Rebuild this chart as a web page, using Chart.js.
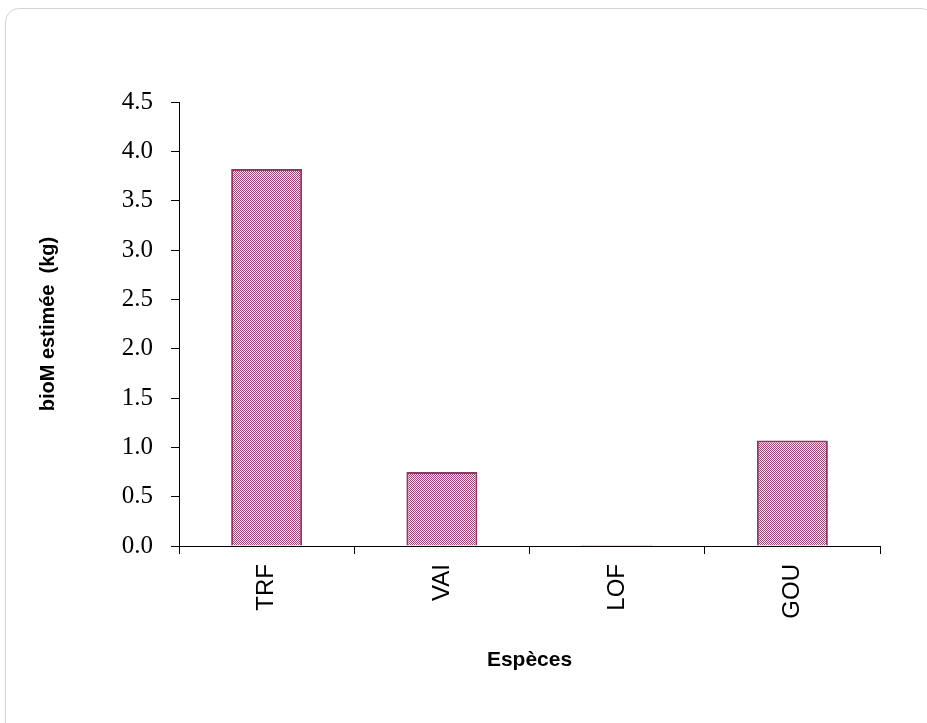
<!DOCTYPE html>
<html>
<head>
<meta charset="utf-8">
<script src="https://cdn.jsdelivr.net/npm/chart.js@4/dist/chart.umd.min.js"></script>
<style>
  html, body { margin: 0; padding: 0; background: #fff; }
  #wrap { position: relative; width: 927px; height: 723px; }
  #frame {
    position: absolute; left: 5px; top: 8px; width: 930px; height: 730px;
    border: 1px solid #d4d4d4; border-radius: 14px; box-sizing: border-box;
  }
  canvas { position: absolute; left: 0; top: 0; }
</style>
</head>
<body>
<div id="wrap">
  <div id="frame"></div>
  <canvas id="c" width="927" height="723"></canvas>
</div>
<script>
// Estimated biomass per species (kg)
const species = ['TRF', 'VAI', 'LOF', 'GOU'];
const biomass = [3.82, 0.75, 0.01, 1.07];
const yTicks = [0, 0.5, 1, 1.5, 2, 2.5, 3, 3.5, 4, 4.5];

// Fine checkered fill for the bars
function checker() {
  const p = document.createElement('canvas');
  p.width = 2; p.height = 2;
  const g = p.getContext('2d');
  g.fillStyle = '#f6e8f0';
  g.fillRect(0, 0, 2, 2);
  g.fillStyle = '#9a4577';
  g.fillRect(0, 0, 1, 1);
  g.fillRect(1, 1, 1, 1);
  return g.createPattern(p, 'repeat');
}

const ctx = document.getElementById('c').getContext('2d');
new Chart(ctx, {
  type: 'bar',
  data: {
    labels: species,
    datasets: [{
      data: biomass,
      backgroundColor: checker(),
      borderColor: '#8b3a62',
      borderWidth: 2,
      categoryPercentage: 1,
      barPercentage: 0.405
    }]
  },
  options: {
    responsive: false,
    animation: false,
    layout: { padding: { left: 32, right: 47, top: 102, bottom: 46 } },
    plugins: { legend: { display: false }, tooltip: { enabled: false } },
    scales: {
      x: {
        offset: true,
        afterFit: s => { s.height = 723 - 46 - 546; },
        grid: { display: true, drawOnChartArea: false, drawTicks: true, tickLength: 8, color: '#000', offset: true },
        border: { display: true, color: '#000', width: 1 },
        ticks: {
          color: '#000', maxRotation: 90, minRotation: 90, padding: 10,
          font: { family: '"Liberation Sans", Arial, sans-serif', size: 24 }
        },
        title: {
          display: true, text: 'Espèces', color: '#000',
          font: { family: '"Liberation Sans", Arial, sans-serif', size: 21, weight: 'bold' }
        }
      },
      y: {
        min: 0, max: 4.5,
        afterFit: s => { s.width = 179 - 32; },
        afterBuildTicks: s => { s.ticks = yTicks.map(v => ({ value: v })); },
        grid: { display: true, drawOnChartArea: false, drawTicks: true, tickLength: 8, color: '#000' },
        border: { display: true, color: '#000', width: 1 },
        ticks: {
          color: '#000', padding: 18,
          callback: v => Number(v).toFixed(1),
          font: { family: '"Liberation Serif", "Times New Roman", serif', size: 25 }
        },
        title: {
          display: true, text: 'bioM estimée  (kg)', color: '#000',
          font: { family: '"Liberation Sans", Arial, sans-serif', size: 20, weight: 'bold' }
        }
      }
    }
  }
});
</script>
</body>
</html>
